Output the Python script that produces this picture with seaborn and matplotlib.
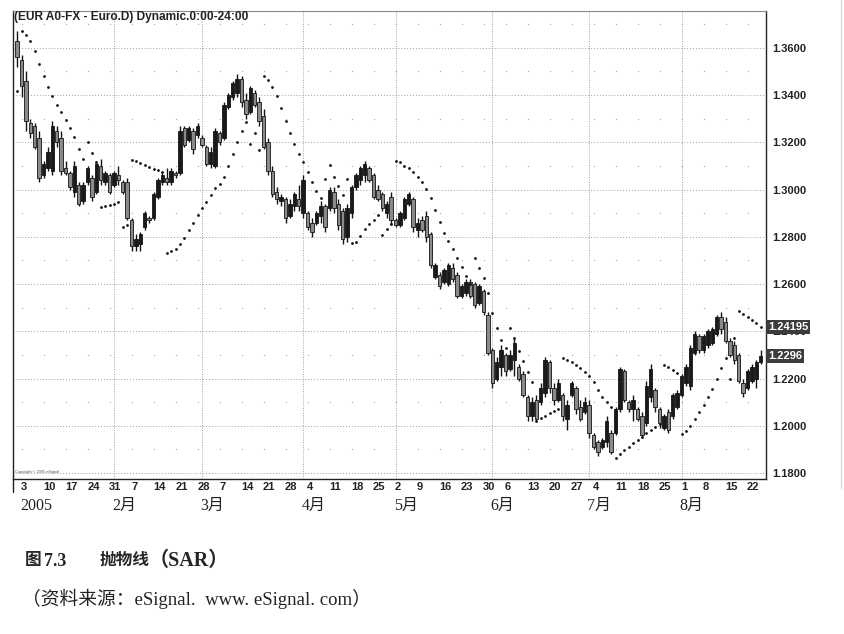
import numpy as np
import pandas as pd
import matplotlib.pyplot as plt
from matplotlib.lines import Line2D
import seaborn as sns

# daily EUR/USD bars, 31 Dec 2004 .. 25 Aug 2005
bar_open = [
    1.363, 1.355, 1.346, 1.328, 1.327, 1.322, 1.306, 1.309, 1.308, 1.325,
    1.322, 1.309, 1.307, 1.299, 1.302, 1.295, 1.303, 1.305, 1.299, 1.310,
    1.303, 1.306, 1.302, 1.306, 1.303, 1.303, 1.287, 1.276, 1.277, 1.284,
    1.288, 1.288, 1.297, 1.303, 1.305, 1.303, 1.307, 1.307, 1.326, 1.321,
    1.325, 1.323, 1.322, 1.318, 1.311, 1.310, 1.324, 1.322, 1.335, 1.339,
    1.341, 1.347, 1.338, 1.333, 1.341, 1.337, 1.331, 1.320, 1.308, 1.299,
    1.295, 1.296, 1.289, 1.293, 1.296, 1.290, 1.290, 1.286, 1.286, 1.289,
    1.293, 1.292, 1.299, 1.294, 1.291, 1.280, 1.290, 1.301, 1.304, 1.306,
    1.309, 1.306, 1.300, 1.298, 1.290, 1.297, 1.287, 1.285, 1.288, 1.294,
    1.296, 1.283, 1.287, 1.289, 1.281, 1.263, 1.264, 1.261, 1.260, 1.267,
    1.264, 1.255, 1.256, 1.261, 1.260, 1.252, 1.257, 1.247, 1.232, 1.220,
    1.225, 1.230, 1.224, 1.228, 1.225, 1.222, 1.212, 1.204, 1.211, 1.210,
    1.214, 1.227, 1.216, 1.211, 1.213, 1.203, 1.213, 1.216, 1.208, 1.206,
    1.209, 1.196, 1.193, 1.191, 1.193, 1.197, 1.197, 1.207, 1.223, 1.210,
    1.207, 1.207, 1.204, 1.201, 1.212, 1.215, 1.207, 1.199, 1.206, 1.204,
    1.208, 1.213, 1.218, 1.217, 1.231, 1.238, 1.232, 1.234, 1.235, 1.239,
    1.246, 1.244, 1.236, 1.234, 1.230, 1.218, 1.216, 1.219, 1.220, 1.227,
]
bar_high = [
    1.367, 1.357, 1.350, 1.330, 1.328, 1.325, 1.312, 1.318, 1.329, 1.327,
    1.325, 1.312, 1.308, 1.312, 1.303, 1.303, 1.310, 1.306, 1.312, 1.313,
    1.308, 1.307, 1.308, 1.310, 1.304, 1.305, 1.288, 1.281, 1.282, 1.291,
    1.289, 1.299, 1.305, 1.307, 1.309, 1.309, 1.308, 1.327, 1.327, 1.327,
    1.326, 1.328, 1.323, 1.319, 1.318, 1.326, 1.325, 1.337, 1.341, 1.346,
    1.349, 1.348, 1.341, 1.344, 1.342, 1.339, 1.334, 1.322, 1.310, 1.301,
    1.298, 1.297, 1.296, 1.299, 1.302, 1.306, 1.291, 1.288, 1.291, 1.295,
    1.294, 1.301, 1.301, 1.296, 1.292, 1.294, 1.302, 1.307, 1.310, 1.312,
    1.310, 1.307, 1.302, 1.299, 1.295, 1.299, 1.288, 1.291, 1.297, 1.299,
    1.297, 1.288, 1.289, 1.291, 1.282, 1.269, 1.265, 1.267, 1.269, 1.269,
    1.265, 1.260, 1.262, 1.262, 1.261, 1.260, 1.258, 1.248, 1.233, 1.229,
    1.234, 1.231, 1.232, 1.237, 1.226, 1.223, 1.213, 1.212, 1.213, 1.218,
    1.229, 1.228, 1.218, 1.220, 1.214, 1.211, 1.219, 1.217, 1.211, 1.212,
    1.211, 1.197, 1.194, 1.195, 1.204, 1.198, 1.208, 1.225, 1.224, 1.211,
    1.213, 1.208, 1.206, 1.219, 1.226, 1.216, 1.208, 1.205, 1.207, 1.214,
    1.215, 1.222, 1.226, 1.234, 1.240, 1.239, 1.239, 1.241, 1.242, 1.247,
    1.248, 1.246, 1.237, 1.236, 1.231, 1.220, 1.224, 1.226, 1.228, 1.232,
]
bar_low = [
    1.352, 1.339, 1.325, 1.322, 1.317, 1.303, 1.305, 1.308, 1.306, 1.318,
    1.306, 1.306, 1.300, 1.297, 1.293, 1.294, 1.302, 1.295, 1.298, 1.302,
    1.302, 1.298, 1.301, 1.302, 1.298, 1.287, 1.274, 1.274, 1.274, 1.283,
    1.286, 1.287, 1.296, 1.302, 1.302, 1.302, 1.305, 1.306, 1.318, 1.320,
    1.315, 1.322, 1.318, 1.310, 1.309, 1.309, 1.319, 1.321, 1.334, 1.338,
    1.339, 1.335, 1.330, 1.332, 1.335, 1.327, 1.317, 1.306, 1.297, 1.294,
    1.293, 1.286, 1.288, 1.291, 1.291, 1.288, 1.283, 1.280, 1.285, 1.286,
    1.282, 1.291, 1.290, 1.283, 1.277, 1.278, 1.288, 1.300, 1.302, 1.303,
    1.303, 1.296, 1.295, 1.291, 1.288, 1.285, 1.284, 1.284, 1.287, 1.293,
    1.282, 1.280, 1.282, 1.278, 1.267, 1.262, 1.258, 1.260, 1.259, 1.261,
    1.254, 1.254, 1.255, 1.254, 1.250, 1.251, 1.247, 1.230, 1.216, 1.219,
    1.221, 1.221, 1.223, 1.221, 1.219, 1.212, 1.202, 1.202, 1.202, 1.209,
    1.212, 1.214, 1.209, 1.210, 1.202, 1.198, 1.212, 1.205, 1.202, 1.205,
    1.195, 1.190, 1.187, 1.190, 1.191, 1.188, 1.196, 1.206, 1.210, 1.206,
    1.202, 1.202, 1.195, 1.200, 1.210, 1.206, 1.199, 1.198, 1.197, 1.203,
    1.207, 1.212, 1.217, 1.215, 1.230, 1.231, 1.231, 1.233, 1.234, 1.238,
    1.239, 1.235, 1.229, 1.226, 1.218, 1.212, 1.215, 1.218, 1.216, 1.226,
]
bar_close = [
    1.356, 1.344, 1.329, 1.324, 1.318, 1.305, 1.311, 1.316, 1.327, 1.320,
    1.308, 1.307, 1.301, 1.310, 1.294, 1.302, 1.309, 1.297, 1.311, 1.304,
    1.307, 1.299, 1.307, 1.304, 1.299, 1.288, 1.276, 1.279, 1.281, 1.290,
    1.287, 1.298, 1.304, 1.306, 1.303, 1.308, 1.306, 1.325, 1.319, 1.326,
    1.317, 1.327, 1.319, 1.311, 1.316, 1.325, 1.320, 1.336, 1.340, 1.345,
    1.347, 1.337, 1.332, 1.343, 1.336, 1.329, 1.318, 1.308, 1.298, 1.296,
    1.297, 1.288, 1.294, 1.298, 1.293, 1.304, 1.284, 1.282, 1.290, 1.293,
    1.284, 1.300, 1.292, 1.285, 1.279, 1.292, 1.301, 1.306, 1.309, 1.311,
    1.304, 1.297, 1.296, 1.292, 1.294, 1.287, 1.285, 1.290, 1.296, 1.298,
    1.284, 1.286, 1.283, 1.280, 1.268, 1.268, 1.259, 1.266, 1.268, 1.262,
    1.255, 1.259, 1.261, 1.255, 1.251, 1.259, 1.248, 1.231, 1.218, 1.227,
    1.232, 1.223, 1.230, 1.235, 1.220, 1.213, 1.204, 1.210, 1.203, 1.216,
    1.228, 1.216, 1.211, 1.218, 1.204, 1.209, 1.218, 1.207, 1.203, 1.210,
    1.197, 1.191, 1.189, 1.194, 1.202, 1.189, 1.207, 1.224, 1.211, 1.207,
    1.211, 1.203, 1.196, 1.217, 1.224, 1.208, 1.201, 1.204, 1.198, 1.213,
    1.214, 1.221, 1.225, 1.233, 1.239, 1.232, 1.238, 1.240, 1.241, 1.246,
    1.241, 1.236, 1.230, 1.228, 1.219, 1.214, 1.223, 1.225, 1.227, 1.2296,
]
# parabolic SAR dots
sar = [
    1.3417, 1.3670, 1.3656, 1.3628, 1.3588, 1.3533, 1.3482, 1.3434, 1.3395, 1.3357,
    1.3327, 1.3296, 1.3261, 1.3221, 1.3173, 1.3128, 1.3200, 1.3155, 1.3115, 1.2925,
    1.2929, 1.2934, 1.2940, 1.2947, 1.2841, 1.2850, 1.3126, 1.3119, 1.3111, 1.3104,
    1.3097, 1.3089, 1.3082, 1.3074, 1.2731, 1.2738, 1.2748, 1.2768, 1.2796, 1.2829,
    1.2857, 1.2892, 1.2921, 1.2949, 1.2977, 1.3005, 1.3024, 1.3055, 1.3100, 1.3149,
    1.3203, 1.3249, 1.3287, 1.3193, 1.3241, 1.3168, 1.3482, 1.3465, 1.3436, 1.3396,
    1.3347, 1.3290, 1.3238, 1.3193, 1.3149, 1.3118, 1.3076, 1.3033, 1.2995, 1.2963,
    1.3043, 1.3104, 1.3055, 1.3016, 1.2979, 1.3043, 1.2773, 1.2780, 1.2803, 1.2831,
    1.2853, 1.2872, 1.2892, 1.2806, 1.2832, 1.2855, 1.3122, 1.3115, 1.3101, 1.3090,
    1.3076, 1.3055, 1.3031, 1.3004, 1.2963, 1.2913, 1.2861, 1.2817, 1.2783, 1.2748,
    1.2712, 1.2673, 1.2635, 1.2600, 1.2709, 1.2669, 1.2627, 1.2561, 1.2479, 1.2413,
    1.2363, 1.2330, 1.2413, 1.2372, 1.2316, 1.2274, 1.2229, 1.2187, 1.2021, 1.2032,
    1.2041, 1.2053, 1.2062, 1.2070, 1.2288, 1.2278, 1.2268, 1.2257, 1.2243, 1.2229,
    1.2211, 1.2185, 1.2152, 1.2123, 1.2099, 1.2081, 1.1862, 1.1880, 1.1897, 1.1911,
    1.1926, 1.1940, 1.1954, 1.1968, 1.1982, 1.1996, 1.2008, 1.2257, 1.2247, 1.2236,
    1.2225, 1.1965, 1.1979, 1.1999, 1.2027, 1.2057, 1.2088, 1.2120, 1.2157, 1.2197,
    1.2243, 1.2286, 1.2200, 1.2370, 1.2486, 1.2472, 1.2460, 1.2449, 1.2435, 1.2419,
]

price_ticks = [1.18, 1.20, 1.22, 1.24, 1.26, 1.28, 1.30, 1.32, 1.34, 1.36]
minor_levels = [1.19, 1.21, 1.23, 1.25, 1.27, 1.29, 1.31, 1.33, 1.35, 1.37]
month_names = ['2005', '2月', '3月', '4月', '5月', '6月', '7月', '8月']
last_sar_text = '1.24195'
last_close_text = '1.2296'
chart_title = '(EUR A0-FX - Euro.D) Dynamic.0:00-24:00'
fig_no = '图'
fig_num = '7.3'
fig_name = '抛物线'
fig_abbr = '（SAR）'
source_note = '（资料来源：eSignal.  www. eSignal. com）'

sns.set_theme(style='white')
plt.rcParams['font.family'] = ['Liberation Sans', 'Noto Sans CJK SC', 'DejaVu Sans']
serif_cjk = ['Liberation Serif', 'Noto Sans CJK SC', 'DejaVu Sans']

df = pd.DataFrame({
    'date': pd.bdate_range('2004-12-31', periods=len(bar_close)),
    'open': bar_open, 'high': bar_high, 'low': bar_low,
    'close': bar_close, 'sar': sar,
})
df['pos'] = np.arange(len(df))
df['up'] = df['close'] >= df['open']

mondays = df[df['date'].dt.weekday == 0]
month_first = df[df['date'].dt.year == 2005].groupby(df['date'].dt.month).head(1)

fig = plt.figure(figsize=(8.44, 6.34), dpi=100)
ax = fig.add_axes([13 / 844, 155 / 634, 753 / 844, 468 / 634])
ax.set_xlim(-0.95, 170.2)
ax.set_ylim(1.17746, 1.3756)

# grid
for lvl in price_ticks:
    ax.axhline(lvl, color='#a0a0a0', lw=0.7, ls=(0, (1, 2)), zorder=0)
for lvl in minor_levels:
    ax.scatter(mondays['pos'], [lvl] * len(mondays), s=0.8, color='#a8a8a8', linewidths=0, zorder=0)
for p in month_first['pos'].iloc[1:]:
    ax.axvline(p, color='#a0a0a0', lw=0.7, ls=(0, (1, 1.5)), zorder=0)

# bars
ax.vlines(df['pos'], df['low'], df['high'], color='#141414', lw=1.0, zorder=3)
body = (df['close'] - df['open']).abs().clip(lower=0.0005)
ax.bar(df['pos'], body, bottom=df[['open', 'close']].min(axis=1), width=0.78,
       color=np.where(df['up'], '#1a1a1a', '#8a8a8a'), edgecolor='#141414', linewidth=0.6, zorder=4)

sns.scatterplot(data=df, x='pos', y='sar', ax=ax, s=4, color='#111111',
                linewidth=0, legend=False, zorder=5)
ax.set_xlabel('')
ax.set_ylabel('')

for side in ['left', 'bottom', 'right']:
    ax.spines[side].set_color('#222222')
    ax.spines[side].set_linewidth(1.0)
ax.spines['top'].set_color('#8a8a8a')
ax.spines['top'].set_linewidth(0.8)

ax.set_xticks([])
ax.yaxis.tick_right()
ax.set_yticks(price_ticks)
ax.set_yticklabels([f'{v:.4f}' for v in price_ticks], fontweight='bold')
ax.tick_params(axis='y', length=0, pad=4.5, labelsize=8, labelcolor='#222222')

trans = ax.get_xaxis_transform()
for p, d in zip(mondays['pos'], mondays['date']):
    ax.text(p - 0.1, -0.018, str(d.day), transform=trans, ha='left', va='center',
            fontsize=8, fontweight='bold', color='#222222')
for p, name in zip(month_first['pos'], month_names):
    ax.text(p - 0.4, -0.057, name, transform=trans, ha='left', va='center',
            fontsize=11.5, family=serif_cjk, color='#222222')

# current SAR / last price boxes on the price scale
ytrans = ax.get_yaxis_transform()
for txt, val in [(last_sar_text, sar[-1]), (last_close_text, bar_close[-1])]:
    ax.annotate(txt, xy=(1, val), xycoords=ytrans, xytext=(1.5, 0), textcoords='offset points',
                ha='left', va='center', fontsize=8, fontweight='bold', color='white',
                bbox=dict(boxstyle='square,pad=0.18', fc='#3c3c3c', ec='none'),
                annotation_clip=False, zorder=10)

ax.text(0.003, 0.012, 'Copyright © 2005 eSignal', transform=ax.transAxes,
        fontsize=2.8, color='#555555')
fig.text(14 / 844, 1 - 17 / 634, chart_title, fontsize=8.6, fontweight='bold',
         ha='left', va='center', color='#222222')

fig.add_artist(Line2D([13 / 844, 13 / 844], [1 - 479 / 634, 1 - 492 / 634], color='#222222', lw=1.0))
fig.add_artist(Line2D([840.5 / 844, 840.5 / 844], [1.0, 1 - 488 / 634], color='#d4d4d4', lw=0.8))

# caption
cap_y = 1 - 561 / 634
fig.text(25 / 844, cap_y, fig_no, fontsize=12, fontweight='bold', family=serif_cjk, va='center')
fig.text(44 / 844, cap_y, fig_num, fontsize=13, fontweight='bold', family=serif_cjk, va='center')
fig.text(100 / 844, cap_y, fig_name, fontsize=12, fontweight='bold', family=serif_cjk, va='center')
fig.text(149 / 844, cap_y, fig_abbr, fontsize=14.5, fontweight='bold', family=serif_cjk, va='center')
fig.text(22 / 844, 1 - 599 / 634, source_note, fontsize=13.5, family=serif_cjk, va='center', color='#222222')

fig.savefig('out.png', dpi=100)
